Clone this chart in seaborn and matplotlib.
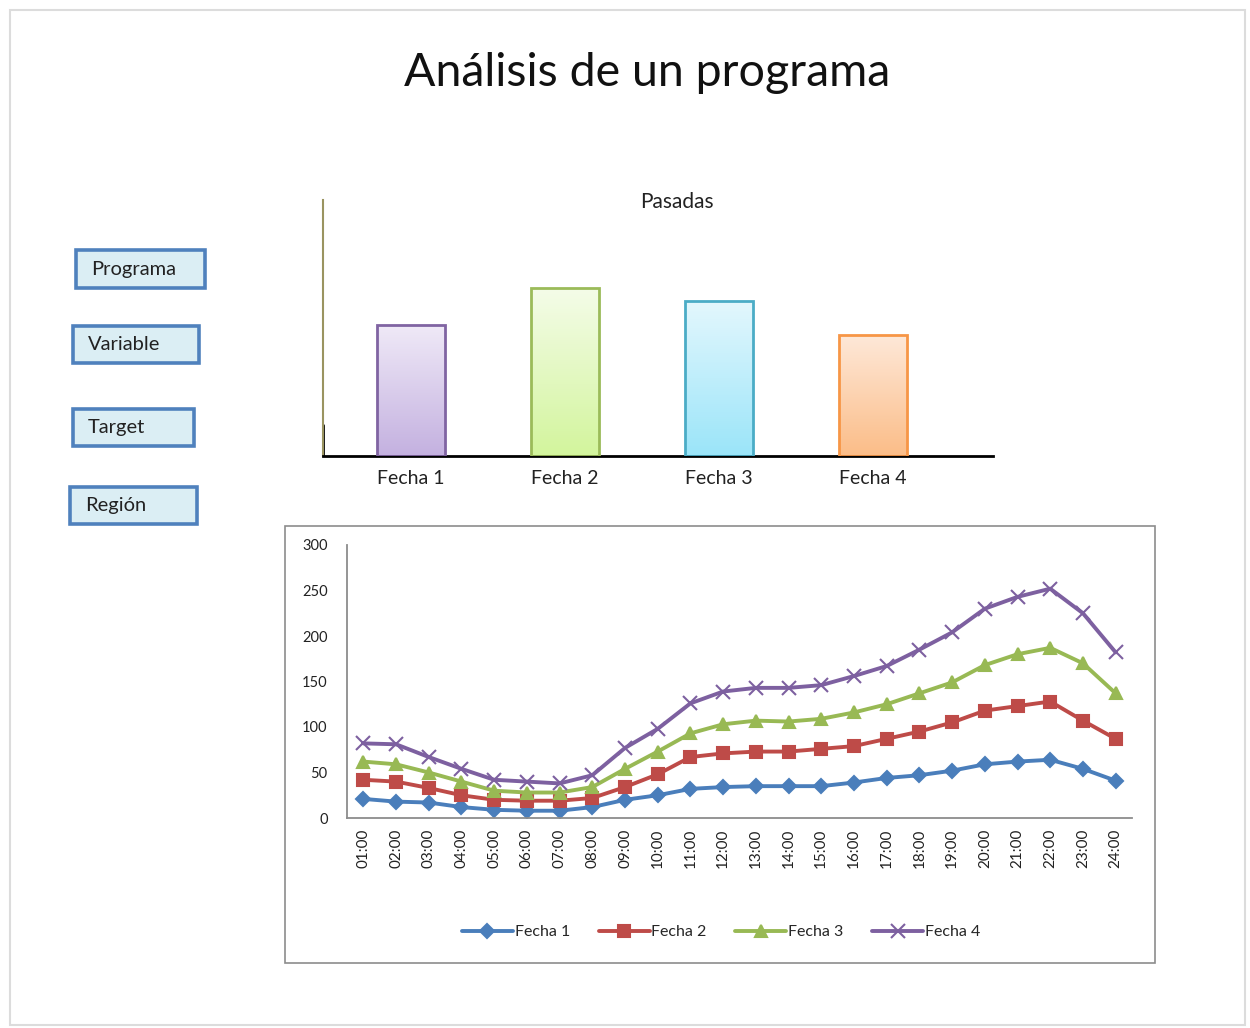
import numpy as np
import pandas as pd
import matplotlib
matplotlib.use("Agg")
import matplotlib.pyplot as plt
from matplotlib.patches import Rectangle
from matplotlib.colors import LinearSegmentedColormap
import seaborn as sns

# datos
fechas = ["Fecha 1", "Fecha 2", "Fecha 3", "Fecha 4"]
pasadas = [131, 168, 155, 121]

horas = ["01:00", "02:00", "03:00", "04:00", "05:00", "06:00", "07:00", "08:00",
         "09:00", "10:00", "11:00", "12:00", "13:00", "14:00", "15:00", "16:00",
         "17:00", "18:00", "19:00", "20:00", "21:00", "22:00", "23:00", "24:00"]
fecha1 = [21, 18, 17, 12, 9, 8, 8, 12, 20, 25, 32, 34, 35, 35, 35, 39, 44, 47, 52, 59, 62, 64, 54, 41]
fecha2 = [42, 40, 33, 25, 20, 19, 19, 22, 34, 48, 67, 71, 73, 73, 76, 79, 87, 95, 105, 118, 123, 128, 107, 87]
fecha3 = [62, 59, 50, 40, 30, 28, 28, 34, 54, 73, 93, 103, 107, 106, 109, 116, 125, 137, 149, 168, 180, 187, 170, 137]
fecha4 = [82, 81, 67, 54, 42, 40, 38, 47, 77, 98, 126, 139, 143, 143, 146, 156, 167, 185, 204, 230, 243, 252, 225, 182]

botones = ["Programa", "Variable", "Target", "Región"]

sns.set_theme(style="white")
plt.rcParams["font.family"] = ["Lato", "DejaVu Sans"]

W, H = 1250, 1028
fig = plt.figure(figsize=(W / 100, H / 100), dpi=100)


def fx(px):
    return px / W


def fy(py):
    return 1 - py / H


# marco exterior
fig.patches.append(Rectangle((fx(10), fy(1025)), fx(1235), (1015) / H, transform=fig.transFigure,
                             facecolor="white", edgecolor="#dcdcdc", lw=1.5, zorder=-2))

fig.text(fx(647), fy(73), "Análisis de un programa", ha="center", va="center", fontsize=33.5, color="#111111")

# botones de la izquierda
cajas = [(76, 250, 129, 38), (73, 326, 126, 37), (73, 409, 121, 37), (70, 487, 127, 37)]
for nombre, (x, y, w, h) in zip(botones, cajas):
    fig.patches.append(Rectangle((fx(x), fy(y + h)), w / W, h / H, transform=fig.transFigure,
                                 facecolor="#dbeef4", edgecolor="#4f81bd", lw=2.6, zorder=2))
    fig.text(fx(x + 15), fy(y + h / 2), nombre, ha="left", va="center", fontsize=14.5,
             color="#222222", zorder=3)

# gráfico de barras
ax1 = fig.add_axes([fx(323), fy(456), 670 / W, 256 / H])
ax1.set_zorder(3)
ax1.patch.set_alpha(0)
df_bar = pd.DataFrame({"fecha": fechas, "pasadas": pasadas})
sns.barplot(data=df_bar, x="fecha", y="pasadas", ax=ax1, width=0.44, color="white", saturation=1)

bordes = ["#8064a2", "#9bbb59", "#4bacc6", "#f79646"]
grad = [("#efe9f7", "#c4b1e0"), ("#f4fce8", "#d3f59d"), ("#e3f7fd", "#9be5f9"), ("#fee8d8", "#fbbd88")]
for p, ec, (c_top, c_bot) in zip(ax1.patches, bordes, grad):
    p.set_edgecolor(ec)
    p.set_linewidth(2)
    p.set_facecolor("none")
    p.set_zorder(3)
    b = p.get_bbox()
    cmap = LinearSegmentedColormap.from_list("g", [c_bot, c_top])
    im = ax1.imshow(np.linspace(1, 0, 100).reshape(-1, 1), extent=[b.x0, b.x1, b.y0, b.y1],
                    aspect="auto", cmap=cmap, zorder=2, origin="upper")
    im.set_clip_path(p)

ax1.set_xlim(-0.57, 3.78)
ax1.set_ylim(0, 256)
ax1.set_yticks([])
ax1.set_xlabel("")
ax1.set_ylabel("")
ax1.set_title("Pasadas", fontsize=15, color="#222222", pad=-6, x=0.528)
ax1.tick_params(axis="x", length=0, labelsize=14, pad=10, colors="#222222")
for s in ["top", "right"]:
    ax1.spines[s].set_visible(False)
ax1.spines["bottom"].set_color("black")
ax1.spines["bottom"].set_linewidth(2)
ax1.spines["left"].set_color("#9a9460")
ax1.spines["left"].set_linewidth(1.5)
ax1.axvline(-0.57, ymin=0, ymax=0.12, color="black", lw=2)

# gráfico de líneas
fig.patches.append(Rectangle((fx(285), fy(963)), 870 / W, 437 / H, transform=fig.transFigure,
                             facecolor="white", edgecolor="#8c8c8c", lw=1.2, zorder=1))

ax2 = fig.add_axes([fx(347), fy(818), 785 / W, 273 / H])
ax2.set_zorder(3)
ax2.patch.set_alpha(0)
colores = ["#4a7ebb", "#be4b48", "#98b954", "#7d60a0"]
marcadores = ["D", "s", "^", "x"]
tam = [7, 8.5, 9, 10]
for serie, vals, c, m, ms in zip(fechas, [fecha1, fecha2, fecha3, fecha4], colores, marcadores, tam):
    sns.lineplot(x=horas, y=vals, ax=ax2, color=c, marker=m, markersize=ms, lw=2.8,
                 markeredgecolor=c, markeredgewidth=1.5, label=serie, legend=False)

ax2.set_xlim(-0.5, 23.5)
ax2.set_ylim(0, 300)
ax2.set_yticks(range(0, 301, 50))
ax2.set_xlabel("")
ax2.set_ylabel("")
ax2.tick_params(axis="both", length=0, labelsize=10.5, colors="#222222")
ax2.tick_params(axis="y", pad=14)
ax2.tick_params(axis="x", labelsize=11, pad=8)
plt.setp(ax2.get_xticklabels(), rotation=90)
for s in ["top", "right"]:
    ax2.spines[s].set_visible(False)
for s in ["left", "bottom"]:
    ax2.spines[s].set_color("#8c8c8c")
    ax2.spines[s].set_linewidth(1.3)

ax2.legend(ax2.lines[:4], fechas, loc="center", bbox_to_anchor=(fx(721), fy(932)),
           bbox_transform=fig.transFigure, ncol=4, frameon=False, fontsize=11.5,
           handlelength=3.2, handletextpad=0.1, columnspacing=1.8)

fig.savefig("out.png", dpi=100)
